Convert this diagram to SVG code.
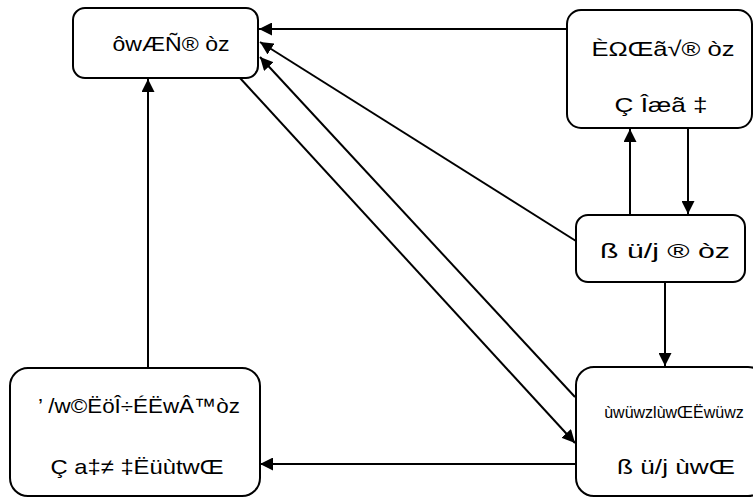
<svg xmlns="http://www.w3.org/2000/svg" width="753" height="499" viewBox="0 0 753 499">
<defs>
<marker id="ah" viewBox="0 0 12 12" refX="12" refY="6" markerWidth="13" markerHeight="13" markerUnits="userSpaceOnUse" orient="auto"><path d="M0,0 L12,6 L0,12 z" fill="#000"/></marker>
</defs>
<style>
.box{fill:#fff;stroke:#000;stroke-width:2}
.t{font-family:"Liberation Sans",Arial,sans-serif;font-size:21px;fill:#000;text-anchor:middle}
.c{stroke:#000;stroke-width:2;fill:none;marker-end:url(#ah)}
</style>
<rect width="753" height="499" fill="#fff"/>
<g id="connectors">
<line class="c" x1="567" y1="29" x2="259" y2="29"/>
<line class="c" x1="576" y1="241" x2="260" y2="42"/>
<line class="c" x1="575" y1="397" x2="260" y2="57"/>
<line class="c" x1="240" y1="78" x2="575" y2="443"/>
<line class="c" x1="576" y1="464" x2="260" y2="464"/>
<line class="c" x1="148" y1="368" x2="148" y2="79"/>
<line class="c" x1="630" y1="215" x2="630" y2="129"/>
<line class="c" x1="688" y1="128" x2="688" y2="214"/>
<line class="c" x1="665" y1="282" x2="665" y2="366"/>
</g>
<g id="n1">
<rect class="box" x="73" y="8" width="185" height="70" rx="12"/>
<text class="t" x="171" y="51" textLength="117" lengthAdjust="spacingAndGlyphs">ôwÆÑ® òz</text>
</g>
<g id="n2">
<rect class="box" x="567" y="10" width="185" height="118" rx="14"/>
<text class="t" x="663" y="56" textLength="143" lengthAdjust="spacingAndGlyphs">ÈΩŒã√® òz</text>
<text class="t" x="661" y="112" textLength="93" lengthAdjust="spacingAndGlyphs">Ç Îæã ‡</text>
</g>
<g id="n3">
<rect class="box" x="576" y="215" width="169" height="67" rx="12"/>
<text class="t" x="665" y="258" textLength="130" lengthAdjust="spacingAndGlyphs">ß ü/j ® òz</text>
</g>
<g id="n4">
<rect class="box" x="10" y="368" width="250" height="128" rx="18"/>
<text class="t" x="139" y="413" textLength="202" lengthAdjust="spacingAndGlyphs">’ /w©ËöÎ÷ÉËwÂ™òz</text>
<text class="t" x="137" y="474" textLength="173" lengthAdjust="spacingAndGlyphs">Ç a‡≠ ‡ËüùtwŒ</text>
</g>
<g id="n5">
<rect class="box" x="576" y="367" width="190" height="129" rx="18"/>
<text class="t" x="674" y="418" style="font-size:16px">ùwüwzlùwŒËwüwz</text>
<text class="t" x="676" y="474" textLength="118" lengthAdjust="spacingAndGlyphs">ß ü/j ùwŒ</text>
</g>
</svg>
